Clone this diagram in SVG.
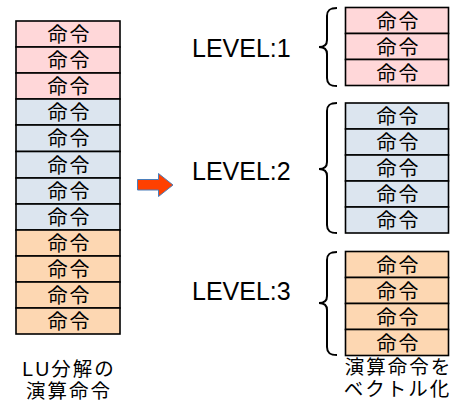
<svg xmlns="http://www.w3.org/2000/svg" width="454" height="410" viewBox="0 0 454 410">
<style>
.c{stroke:#000;stroke-width:1.6}
.p{fill:#ffd7d9}
.b{fill:#dce5ef}
.o{fill:#fdd7b2}
.t{font-family:"Liberation Sans","Noto Sans CJK JP","Noto Sans CJK SC",sans-serif;font-size:20px;fill:#000;text-anchor:middle;letter-spacing:2px}
.lv{font-family:"Liberation Sans",Arial,sans-serif;font-size:25px;fill:#000}
.cap{font-family:"Liberation Sans","Noto Sans CJK JP","Noto Sans CJK SC",sans-serif;font-size:19.5px;fill:#000;text-anchor:middle;letter-spacing:2px}
.br{fill:none;stroke:#000;stroke-width:2}
</style>
<g id="left-stack">
<rect class="c p" x="16" y="21" width="104" height="26"/>
<rect class="c p" x="16" y="47" width="104" height="26"/>
<rect class="c p" x="16" y="73" width="104" height="26"/>
<rect class="c b" x="16" y="99" width="104" height="26"/>
<rect class="c b" x="16" y="125" width="104" height="26.5"/>
<rect class="c b" x="16" y="151.5" width="104" height="26.5"/>
<rect class="c b" x="16" y="178" width="104" height="26"/>
<rect class="c b" x="16" y="204" width="104" height="26"/>
<rect class="c o" x="16" y="230" width="104" height="26"/>
<rect class="c o" x="16" y="256" width="104" height="26"/>
<rect class="c o" x="16" y="282" width="104" height="26"/>
<rect class="c o" x="16" y="308" width="104" height="26"/>
<text class="t" x="69.5" y="42">命令</text>
<text class="t" x="69.5" y="68">命令</text>
<text class="t" x="69.5" y="94">命令</text>
<text class="t" x="69.5" y="120">命令</text>
<text class="t" x="69.5" y="146">命令</text>
<text class="t" x="69.5" y="173">命令</text>
<text class="t" x="69.5" y="199">命令</text>
<text class="t" x="69.5" y="225">命令</text>
<text class="t" x="69.5" y="251">命令</text>
<text class="t" x="69.5" y="277">命令</text>
<text class="t" x="69.5" y="303">命令</text>
<text class="t" x="69.5" y="329">命令</text>
</g>
<g id="left-caption">
<text class="cap" x="69" y="375.5">LU分解の</text>
<text class="cap" x="69" y="397.5">演算命令</text>
</g>
<g id="arrow">
<path d="M137.5,179.5 H158.5 V173.5 L173,185 L158.5,196.5 V190 H137.5 Z" fill="#ff4000" stroke="#4a7ebb" stroke-width="1"/>
</g>
<g id="level1">
<text class="lv" x="192" y="57">LEVEL:1</text>
<path class="br" d="M337,8 C330,8 327,10 327,16 V40 C327,45 324,47 319,47 C324,47 327,49 327,54 V78 C327,84 330,86 337,86"/>
<rect class="c p" x="345.5" y="7.5" width="103" height="26"/>
<rect class="c p" x="345.5" y="33.5" width="103" height="26"/>
<rect class="c p" x="345.5" y="59.5" width="103" height="26"/>
<text class="t" x="398.5" y="28.5">命令</text>
<text class="t" x="398.5" y="54.5">命令</text>
<text class="t" x="398.5" y="80.5">命令</text>
</g>
<g id="level2">
<text class="lv" x="192" y="180">LEVEL:2</text>
<path class="br" d="M337,103 C330,103 327,105 327,111 V162 C327,167 324,169 319,169 C324,169 327,171 327,176 V225 C327,231 330,233 337,233"/>
<rect class="c b" x="345.5" y="103" width="103" height="26"/>
<rect class="c b" x="345.5" y="129" width="103" height="26"/>
<rect class="c b" x="345.5" y="155" width="103" height="26"/>
<rect class="c b" x="345.5" y="181" width="103" height="26"/>
<rect class="c b" x="345.5" y="207" width="103" height="26"/>
<text class="t" x="398.5" y="124">命令</text>
<text class="t" x="398.5" y="150">命令</text>
<text class="t" x="398.5" y="176">命令</text>
<text class="t" x="398.5" y="202">命令</text>
<text class="t" x="398.5" y="228">命令</text>
</g>
<g id="level3">
<text class="lv" x="192" y="300">LEVEL:3</text>
<path class="br" d="M337,252 C330,252 327,254 327,260 V296 C327,301 324,303 319,303 C324,303 327,305 327,310 V347 C327,353 330,355 337,355"/>
<rect class="c o" x="345.5" y="251.5" width="103" height="26"/>
<rect class="c o" x="345.5" y="277.5" width="103" height="26"/>
<rect class="c o" x="345.5" y="303.5" width="103" height="26"/>
<rect class="c o" x="345.5" y="329.5" width="103" height="26"/>
<text class="t" x="398.5" y="272.5">命令</text>
<text class="t" x="398.5" y="298.5">命令</text>
<text class="t" x="398.5" y="324.5">命令</text>
<text class="t" x="398.5" y="350.5">命令</text>
</g>
<g id="right-caption">
<text class="cap" x="398.5" y="373.5">演算命令を</text>
<text class="cap" x="397.5" y="395.5">ベクトル化</text>
</g>
</svg>
